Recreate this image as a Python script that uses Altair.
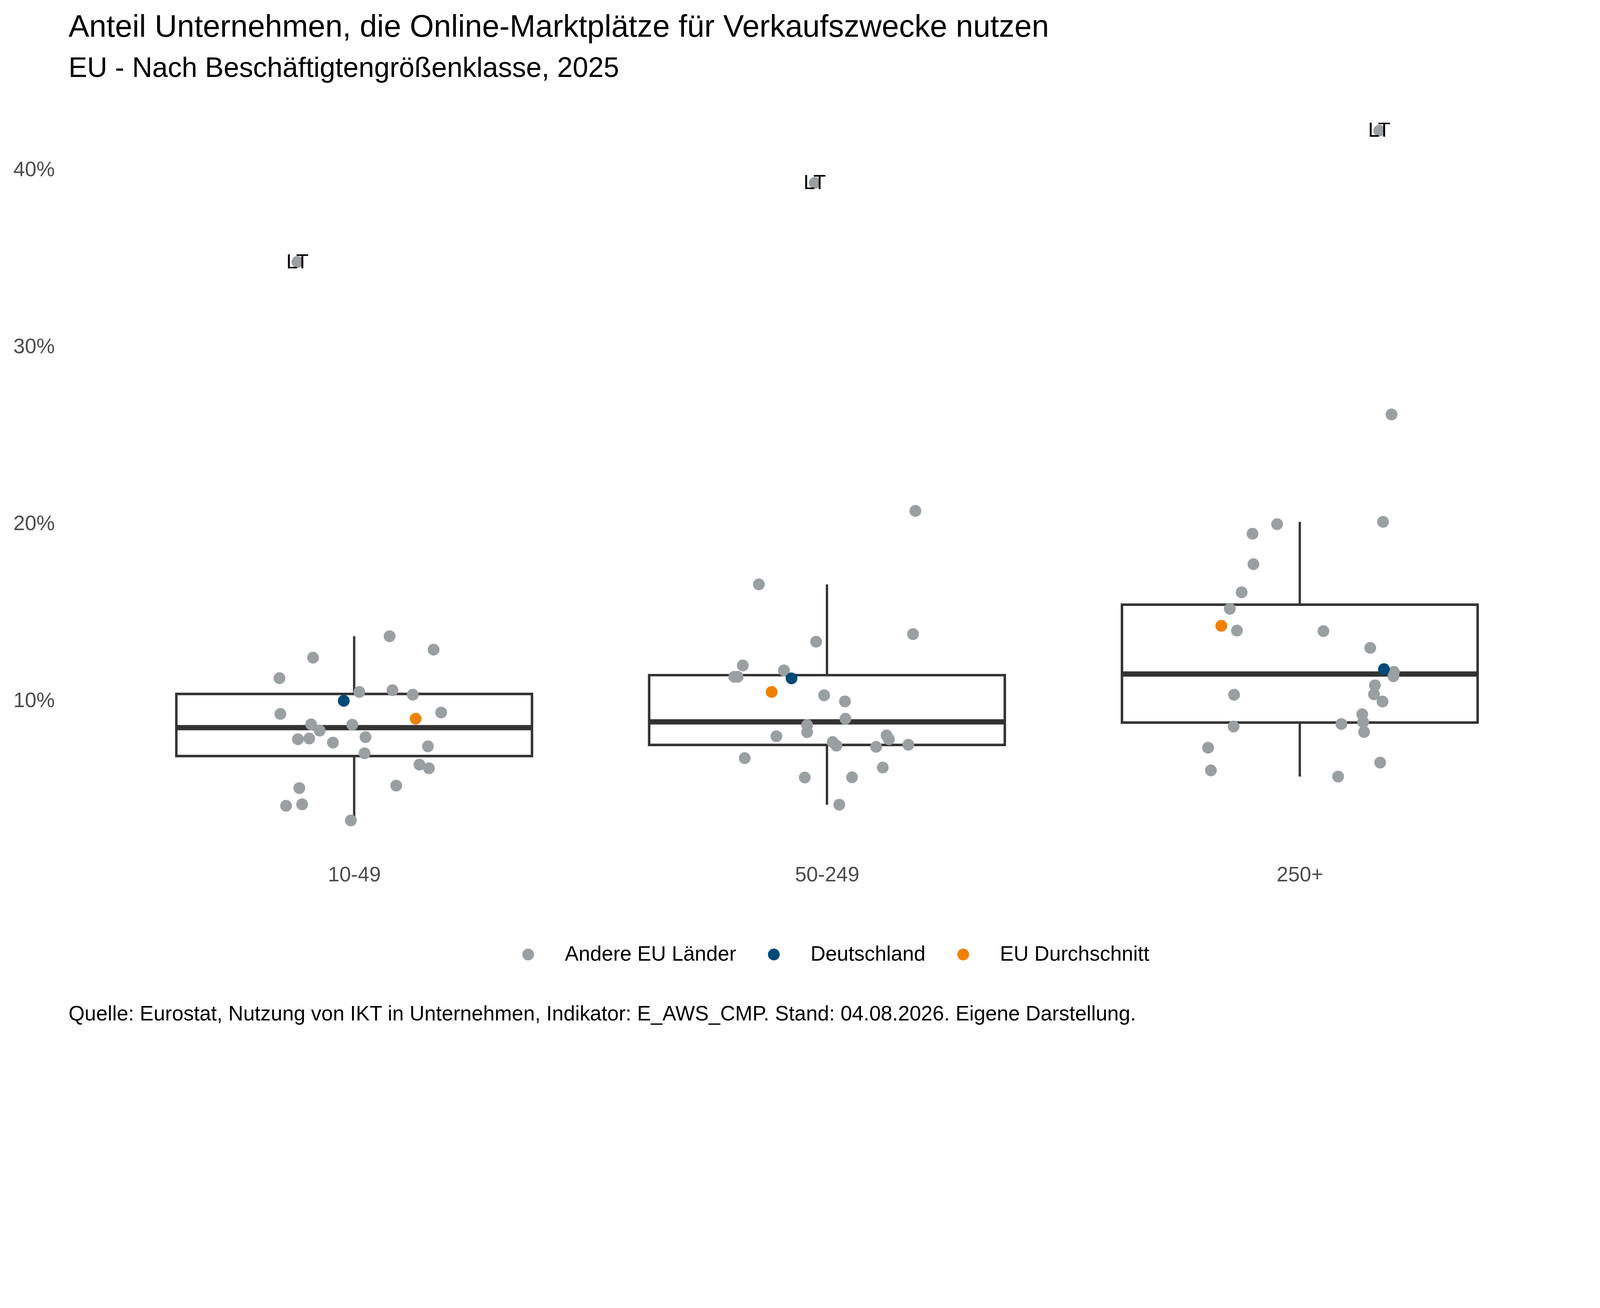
import altair as alt
import pandas as pd

# ---- data ----
groups = ["10-49", "50-249", "250+"]
categories = ["Andere EU Länder", "Deutschland", "EU Durchschnitt"]
cat_colors = ["#9A9FA1", "#004A77", "#F08100"]

g1_other = [13.64, 12.88, 12.43, 11.27, 10.49, 10.59, 10.34, 9.25, 9.33, 8.66, 8.64, 8.31, 7.82,
            7.86, 7.94, 7.63, 7.42, 7.03, 6.39, 6.18, 5.20, 5.06, 4.06, 4.14, 3.23]
g1_jit = [0.075, 0.168, -0.087, -0.158, 0.011, 0.081, 0.124, -0.156, 0.184, -0.091, -0.004, -0.073, -0.119,
          -0.095, 0.024, -0.045, 0.156, 0.022, 0.138, 0.158, 0.089, -0.116, -0.144, -0.110, -0.007]

g2_other = [20.72, 16.57, 13.76, 13.33, 11.99, 11.71, 11.35, 11.35, 10.30, 9.96, 8.98, 8.62, 8.22,
            7.99, 8.04, 7.82, 7.66, 7.46, 7.39, 7.51, 6.75, 6.22, 5.66, 5.67, 4.12]
g2_jit = [0.187, -0.144, 0.182, -0.023, -0.178, -0.091, -0.196, -0.189, -0.006, 0.038, 0.039, -0.042, -0.042,
          -0.107, 0.126, 0.131, 0.012, 0.020, 0.104, 0.172, -0.174, 0.118, -0.047, 0.053, 0.026]

g3_other = [26.17, 19.97, 20.10, 19.43, 17.71, 16.12, 15.19, 13.96, 13.93, 12.98, 11.63, 11.38, 10.87,
            10.36, 10.33, 9.95, 9.23, 8.79, 8.68, 8.54, 8.23, 7.34, 6.50, 6.06, 5.71]
g3_jit = [0.194, -0.048, 0.176, -0.100, -0.098, -0.123, -0.148, -0.133, 0.050, 0.149, 0.199, 0.198, 0.159,
          0.157, -0.139, 0.175, 0.132, 0.134, 0.088, -0.140, 0.136, -0.194, 0.170, -0.188, 0.081]

lt_values = [34.78, 39.25, 42.20]
lt_jit = [-0.120, -0.026, 0.168]
de_values = [9.99, 11.26, 11.78]
de_jit = [-0.022, -0.075, 0.178]
eu_values = [8.98, 10.49, 14.23]
eu_jit = [0.130, -0.117, -0.166]

title = "Anteil Unternehmen, die Online-Marktplätze für Verkaufszwecke nutzen"
subtitle = "EU - Nach Beschäftigtengrößenklasse, 2025"
caption = ("Quelle: Eurostat, Nutzung von IKT in Unternehmen, Indikator: E_AWS_CMP. "
           "Stand: 04.08.2026. Eigene Darstellung.")

# ---- build table ----
others = [g1_other, g2_other, g3_other]
jits = [g1_jit, g2_jit, g3_jit]
rows = []
for gi in range(3):
    for v, j in zip(others[gi], jits[gi]):
        rows.append({"pos": gi + 1, "value": v, "jit": j, "cat": categories[0], "lab": ""})
    rows.append({"pos": gi + 1, "value": lt_values[gi], "jit": lt_jit[gi], "cat": categories[0], "lab": "LT"})
for gi in range(3):
    rows.append({"pos": gi + 1, "value": de_values[gi], "jit": de_jit[gi], "cat": categories[1], "lab": ""})
for gi in range(3):
    rows.append({"pos": gi + 1, "value": eu_values[gi], "jit": eu_jit[gi], "cat": categories[2], "lab": ""})
df = pd.DataFrame(rows)

# layout sizes are given in photo pixels and converted to CSS pixels
K = 4096 / 5160


def px(v):
    return round(v * K, 2)


FONT = "Liberation Sans"
xscale = alt.Scale(domain=[0.4, 3.6], nice=False, zero=False)
yscale = alt.Scale(domain=[1.28, 44.15], nice=False, zero=False)
label_expr = "datum.value == 1 ? '%s' : datum.value == 2 ? '%s' : '%s'" % tuple(groups)

base = alt.Chart(df)

box = base.mark_boxplot(
    orient="vertical", extent=1.5, outliers=False, ticks=False, size=px(1147),
    box={"color": "white", "fill": "white", "stroke": "#333333", "strokeWidth": px(8), "opacity": 1},
    median={"color": "#333333", "thickness": px(17), "opacity": 1},
    rule={"color": "#333333", "strokeWidth": px(7.5), "opacity": 1},
).encode(
    x=alt.X("pos:Q", scale=xscale,
            axis=alt.Axis(values=[1, 2, 3], labelExpr=label_expr, title=None, domain=False,
                          ticks=False, tickSize=0, grid=False, labelFontSize=px(66.7), labelLimit=0,
                          labelColor="#4D4D4D", labelFont=FONT, labelPadding=px(32))),
    y=alt.Y("value:Q", scale=yscale,
            axis=alt.Axis(values=[10, 20, 30, 40], labelExpr="datum.value + '%'", title=None,
                          domain=False, ticks=False, tickSize=0, grid=False, labelFontSize=px(66.7),
                          labelLimit=0, labelColor="#4D4D4D", labelFont=FONT, labelPadding=px(45))),
)

points = base.transform_calculate(xj="datum.pos + datum.jit").mark_circle(
    size=px(38) ** 2, opacity=1
).encode(
    x=alt.X("xj:Q", scale=xscale),
    y=alt.Y("value:Q", scale=yscale),
    color=alt.Color("cat:N", scale=alt.Scale(domain=categories, range=cat_colors),
                    legend=alt.Legend(title=None, orient="none", legendX=px(1449), legendY=px(2734),
                                      direction="horizontal", labelFontSize=px(66.7), labelFont=FONT,
                                      labelColor="black", labelLimit=0, symbolType="circle",
                                      symbolSize=px(38) ** 2, symbolStrokeWidth=0, labelOffset=px(85),
                                      columnPadding=px(88), padding=0, symbolOpacity=1)),
)

labels = base.transform_filter("datum.lab != ''").transform_calculate(
    xj="datum.pos + datum.jit"
).mark_text(fontSize=px(66), font=FONT, color="black", align="center", baseline="middle").encode(
    x=alt.X("xj:Q", scale=xscale),
    y=alt.Y("value:Q", scale=yscale),
    text="lab:N",
)

cap = alt.Chart(pd.DataFrame({"t": [caption]})).mark_text(
    fontSize=px(66.7), font=FONT, color="black", align="left", baseline="alphabetic"
).encode(x=alt.value(0), y=alt.value(px(2980)), text="t:N")

plot_w = px(4892)
plot_h = px(2447)
pad_left = px(221 - 10.08)
pad_top = px(310 - 10.08)
pad_right = 4080 - pad_left - plot_w
pad_bottom = 2638 - pad_top - plot_h

chart = alt.layer(box, points, labels, cap).properties(
    width=plot_w, height=plot_h,
    title=alt.TitleParams(text=title, subtitle=subtitle, anchor="start", frame="group",
                          fontSize=px(100), subtitleFontSize=px(90), font=FONT, subtitleFont=FONT,
                          fontWeight="normal", color="black", subtitleColor="black",
                          offset=px(43), subtitlePadding=px(38)),
    autosize=alt.AutoSizeParams(type="none"),
    padding={"left": pad_left, "top": pad_top, "right": pad_right, "bottom": pad_bottom},
).configure(background="white").configure_view(strokeWidth=0, stroke="transparent")

chart.save("out.html", embed_options={"renderer": "svg", "actions": False})
